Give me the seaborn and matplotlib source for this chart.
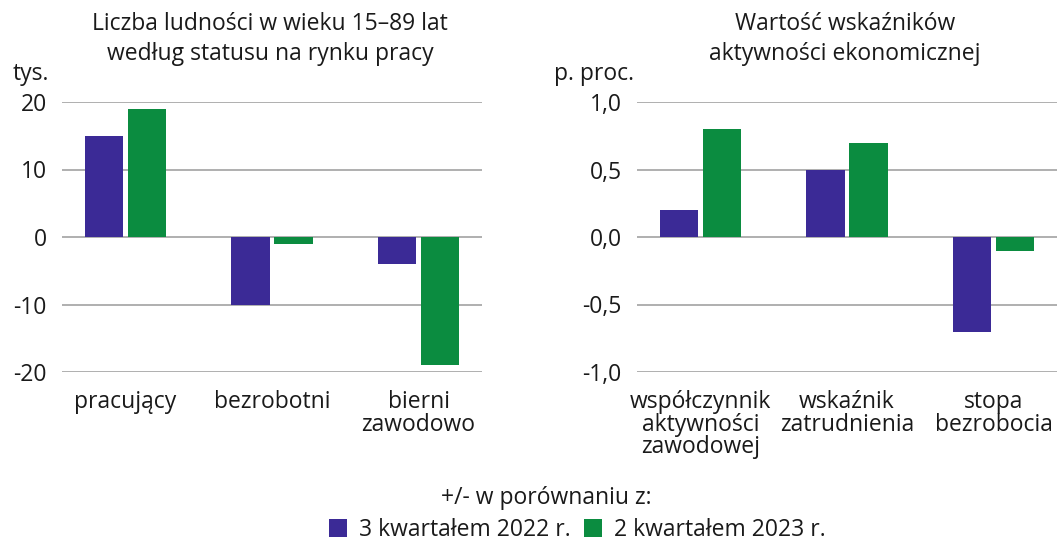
import matplotlib
matplotlib.use("Agg")
import matplotlib.pyplot as plt
import seaborn as sns
import pandas as pd
from matplotlib.patches import Patch
from matplotlib.ticker import FixedLocator, FuncFormatter

# ---- data ----
left_categories = ["pracujący", "bezrobotni", "bierni\nzawodowo"]
left_q3_2022 = [15, -10, -4]
left_q2_2023 = [19, -1, -19]
left_ticks = [20, 10, 0, -10, -20]

right_categories = ["współczynnik\naktywności\nzawodowej", "wskaźnik\nzatrudnienia", "stopa\nbezrobocia"]
right_q3_2022 = [0.2, 0.5, -0.7]
right_q2_2023 = [0.8, 0.7, -0.1]
right_ticks = [1.0, 0.5, 0.0, -0.5, -1.0]

series_names = ["3 kwartałem 2022 r.", "2 kwartałem 2023 r."]
colors = ["#3b2a96", "#0b8c40"]

sns.set_theme(style="white")
plt.rcParams["font.family"] = ["Open Sans", "DejaVu Sans"]
plt.rcParams["text.color"] = "#1a1a1a"

FS = 16.5

fig = plt.figure(figsize=(10.64, 5.45), dpi=100)
W, H = 1064, 545
ax1 = fig.add_axes([62 / W, 1 - 372 / H, 420 / W, 270 / H])
ax2 = fig.add_axes([637 / W, 1 - 372 / H, 420 / W, 270 / H])


def draw(ax, cats, a, b, ticks, fmt):
    df = pd.DataFrame({
        "cat": cats * 2,
        "val": list(a) + list(b),
        "ser": [series_names[0]] * len(cats) + [series_names[1]] * len(cats),
    })
    for y in ticks:
        ax.axhline(y, color="#9a9a9a", lw=1.1, zorder=0)
    sns.barplot(data=df, x="cat", y="val", hue="ser", palette=colors,
                width=0.587, gap=0.116, ax=ax, legend=False, zorder=2,
                saturation=1, linewidth=0)
    ax.set_xlim(-0.433, 2.433)
    ax.set_ylim(min(ticks), max(ticks))
    ax.yaxis.set_major_locator(FixedLocator(ticks))
    ax.yaxis.set_major_formatter(FuncFormatter(fmt))
    ax.set_xlabel("")
    ax.set_ylabel("")
    for s in ax.spines.values():
        s.set_visible(False)
    ax.tick_params(axis="both", length=0, labelsize=FS, colors="#1a1a1a")
    ax.tick_params(axis="y", pad=11)
    ax.tick_params(axis="x", pad=13)
    for lab in ax.get_xticklabels():
        lab.set_linespacing(0.92)
        lab.set_va("top")


draw(ax1, left_categories, left_q3_2022, left_q2_2023, left_ticks,
     lambda v, p: f"{int(v)}")
draw(ax2, right_categories, right_q3_2022, right_q2_2023, right_ticks,
     lambda v, p: f"{v:.1f}".replace(".", ","))

fig.text(270 / W, 1 - 39 / H, "Liczba ludności w wieku 15–89 lat\nwedług statusu na rynku pracy",
         ha="center", va="center", fontsize=FS, linespacing=1.3)
fig.text(845 / W, 1 - 39 / H, "Wartość wskaźników\naktywności ekonomicznej",
         ha="center", va="center", fontsize=FS, linespacing=1.3)
fig.text(31 / W, 1 - 74 / H, "tys.", ha="center", va="center", fontsize=FS)
fig.text(594 / W, 1 - 74 / H, "p. proc.", ha="center", va="center", fontsize=FS)

fig.text(546 / W, 1 - 498 / H, "+/- w porównaniu z:", ha="center", va="center", fontsize=FS)
handles = [Patch(facecolor=c, edgecolor="none") for c in colors]
fig.legend(handles, series_names, loc="center", bbox_to_anchor=(577 / W, 1 - 530 / H),
           ncol=2, frameon=False, fontsize=FS, handlelength=0.8, handleheight=0.8,
           handletextpad=0.5, columnspacing=0.6, borderaxespad=0, borderpad=0)

fig.savefig("out.png", dpi=100, facecolor="white")
